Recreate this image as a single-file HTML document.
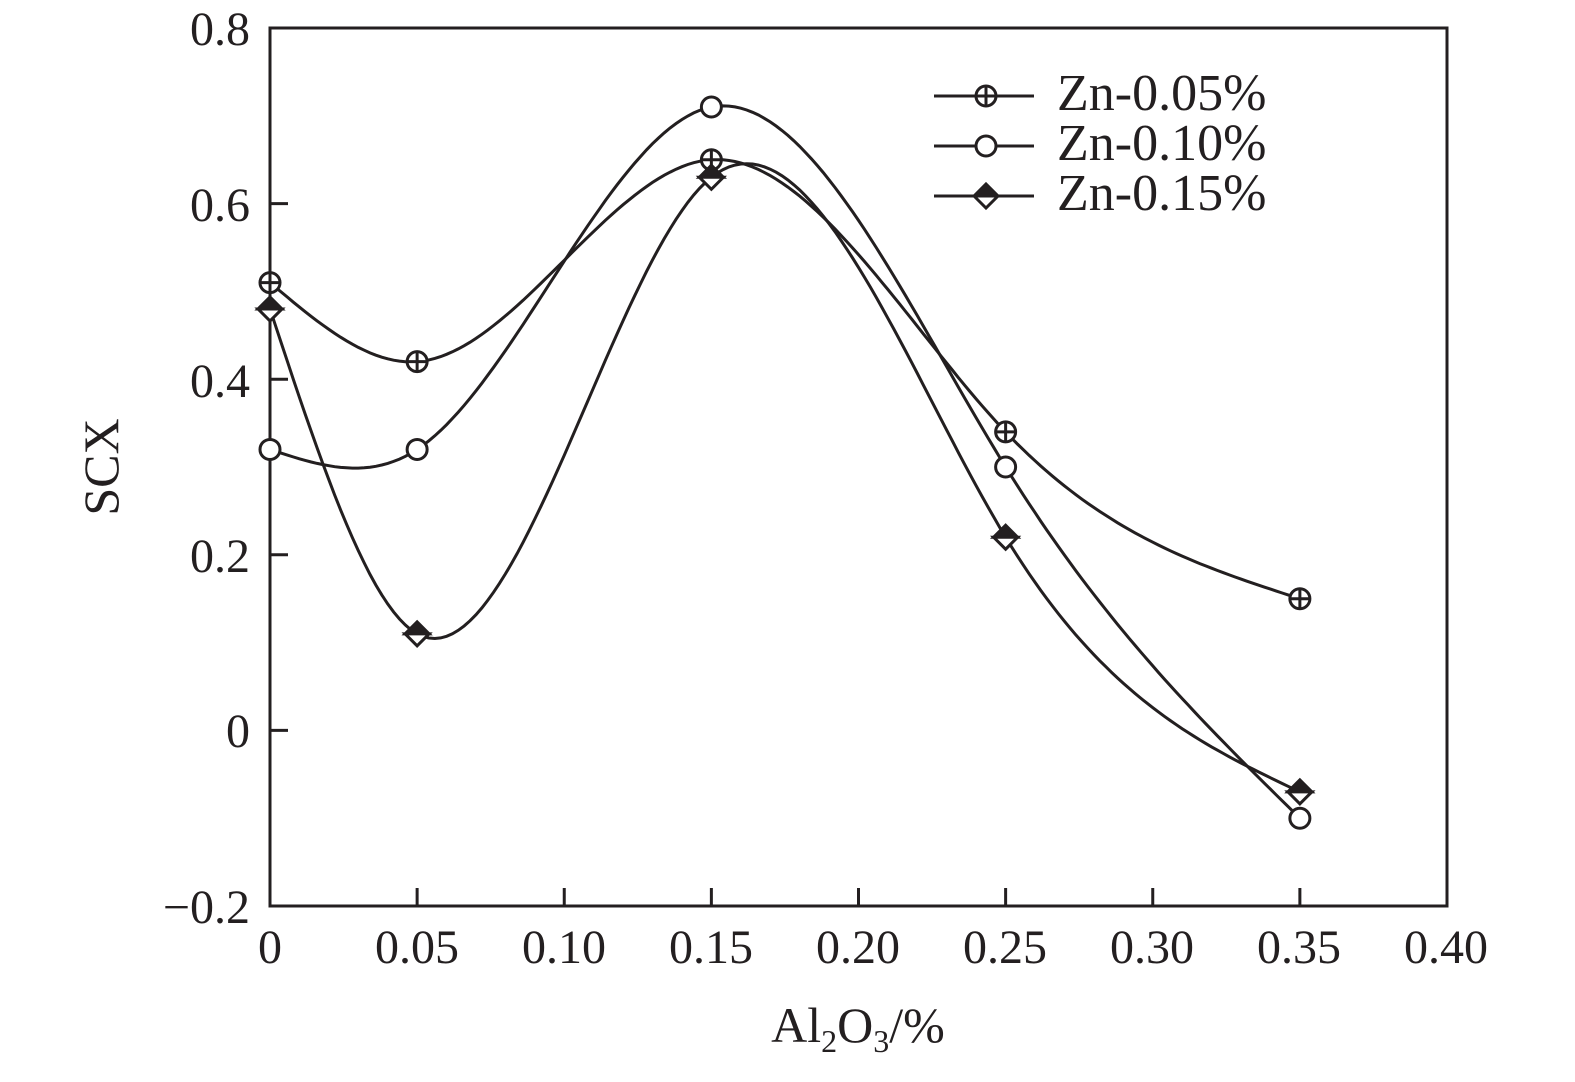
<!DOCTYPE html>
<html><head><meta charset="utf-8"><style>
html,body{margin:0;padding:0;background:#fff;}
svg text{font-family:"Liberation Serif",serif;fill:#231f20;}
</style></head><body>
<svg id="s" width="1575" height="1077" viewBox="0 0 1575 1077" xmlns="http://www.w3.org/2000/svg">
<rect x="270" y="28" width="1177" height="878" fill="none" stroke="#231f20" stroke-width="3"/>
<g stroke="#231f20" stroke-width="3" id="ticks"></g>
<g font-size="48" text-anchor="end">
<text x="250" y="45">0.8</text>
<text x="250" y="221">0.6</text>
<text x="250" y="397">0.4</text>
<text x="250" y="572">0.2</text>
<text x="250" y="747">0</text>
<text x="250" y="923">−0.2</text>
</g>
<g font-size="48" text-anchor="middle">
<text x="270" y="963">0</text>
<text x="417" y="963">0.05</text>
<text x="564" y="963">0.10</text>
<text x="711" y="963">0.15</text>
<text x="858" y="963">0.20</text>
<text x="1005" y="963">0.25</text>
<text x="1152" y="963">0.30</text>
<text x="1299" y="963">0.35</text>
<text x="1446" y="963">0.40</text>
</g>
<text x="858" y="1042" font-size="50" text-anchor="middle">Al<tspan font-size="32" dy="10">2</tspan><tspan dy="-10">O</tspan><tspan font-size="32" dy="10">3</tspan><tspan dy="-10">/%</tspan></text>
<text transform="translate(118,467) rotate(-90)" font-size="50" text-anchor="middle">SCX</text>
<g id="curves" fill="none" stroke="#231f20" stroke-width="3"></g>
<g id="marks" stroke="#231f20" stroke-width="3"></g>
<g font-size="52">
<text x="1057" y="110">Zn-0.05%</text>
<text x="1057" y="160">Zn-0.10%</text>
<text x="1057" y="210">Zn-0.15%</text>
</g>
</svg>
<script>
function X(v){return 270+v*2942.5;}
function Y(v){return 730.4-878*v;}
var t='';
[0.05,0.1,0.15,0.2,0.25,0.3,0.35].forEach(function(v){t+='<line x1="'+X(v)+'" y1="906" x2="'+X(v)+'" y2="888"/>';});
[0.6,0.4,0.2,0].forEach(function(v){t+='<line x1="270" y1="'+Y(v)+'" x2="288" y2="'+Y(v)+'"/>';});
document.getElementById('ticks').innerHTML=t;
var xs=[0,0.05,0.15,0.25,0.35];
var data=[[0.51,0.42,0.65,0.34,0.15],[0.32,0.32,0.71,0.30,-0.10],[0.48,0.11,0.63,0.22,-0.07]];
function spline(x,y){var n=x.length,h=[],a=[],l=[1],mu=[0],z=[0],c=new Array(n).fill(0),b=[],d=[];
for(var i=0;i<n-1;i++)h[i]=x[i+1]-x[i];
for(i=1;i<n-1;i++)a[i]=3/h[i]*(y[i+1]-y[i])-3/h[i-1]*(y[i]-y[i-1]);
for(i=1;i<n-1;i++){l[i]=2*(x[i+1]-x[i-1])-h[i-1]*mu[i-1];mu[i]=h[i]/l[i];z[i]=(a[i]-h[i-1]*z[i-1])/l[i];}
for(var j=n-2;j>=0;j--){c[j]=(j>0?z[j]:0)-mu[j]*c[j+1];b[j]=(y[j+1]-y[j])/h[j]-h[j]*(c[j+1]+2*c[j])/3;d[j]=(c[j+1]-c[j])/(3*h[j]);}
return function(t){var k=0;while(k<n-2&&t>x[k+1])k++;var dx=t-x[k];return y[k]+b[k]*dx+c[k]*dx*dx+d[k]*dx*dx*dx;};}
var cur='',mk='';
data.forEach(function(ys,si){var f=spline(xs,ys),p='';
for(var t=0;t<=0.35001;t+=0.002){p+=(p?'L':'M')+X(t).toFixed(1)+','+Y(f(Math.min(t,0.35))).toFixed(1);}
cur+='<path d="'+p+'"/>';});
function marker(si,cx,cy){
if(si==0)return '<circle cx="'+cx+'" cy="'+cy+'" r="10" fill="#fff"/><line x1="'+(cx-10)+'" y1="'+cy+'" x2="'+(cx+10)+'" y2="'+cy+'"/><line x1="'+cx+'" y1="'+(cy-10)+'" x2="'+cx+'" y2="'+(cy+10)+'"/>';
if(si==1)return '<circle cx="'+cx+'" cy="'+cy+'" r="10" fill="#fff"/>';
return '<path d="M'+(cx-12)+','+cy+'L'+cx+','+(cy-12)+'L'+(cx+12)+','+cy+'Z" fill="#231f20"/><path d="M'+(cx-12)+','+cy+'L'+cx+','+(cy+12)+'L'+(cx+12)+','+cy+'Z" fill="#fff"/>';}
data.forEach(function(ys,si){ys.forEach(function(v,i){mk+=marker(si,X(xs[i]),Y(v));});});
[96,146,196].forEach(function(y,si){mk+='<line x1="934" y1="'+y+'" x2="1034" y2="'+y+'"/>'+marker(si,986,y);});
document.getElementById('curves').innerHTML=cur;
document.getElementById('marks').innerHTML=mk;
</script>
</body></html>
